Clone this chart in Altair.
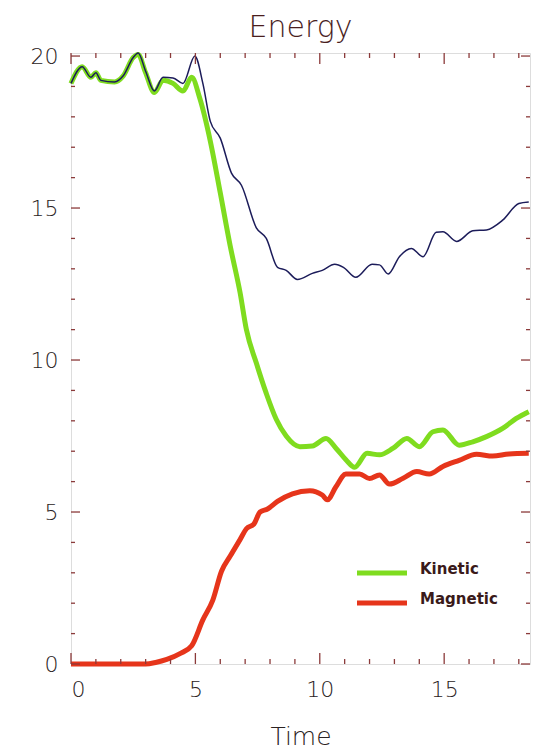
import altair as alt
import pandas as pd

# Total energy (thin dark line)
time_total = [0.0, 0.45, 0.8, 1.0, 1.2, 1.75, 2.1, 2.5, 2.7, 3.0, 3.35, 3.7, 4.1, 4.5,
              4.98, 5.3, 5.6, 6.0, 6.45, 6.85, 7.45, 7.85, 8.3, 8.65, 9.1, 9.7, 10.1,
              10.6, 10.95, 11.45, 12.1, 12.4, 12.75, 13.2, 13.68, 14.15, 14.68, 14.95,
              15.5, 16.15, 16.7, 17.35, 18.0, 18.4]
energy_total = [19.1, 19.65, 19.3, 19.45, 19.2, 19.15, 19.35, 19.95, 20.1, 19.5, 18.85,
                19.3, 19.28, 19.1, 20.0, 19.1, 17.85, 17.3, 16.15, 15.75, 14.35, 14.0,
                13.05, 12.95, 12.65, 12.85, 12.95, 13.15, 13.05, 12.72, 13.15, 13.13,
                12.83, 13.4, 13.67, 13.4, 14.2, 14.22, 13.9, 14.25, 14.28, 14.6, 15.15,
                15.2]

# Kinetic energy
time_kinetic = [0.0, 0.45, 0.8, 1.0, 1.2, 1.75, 2.1, 2.5, 2.7, 3.0, 3.35, 3.7, 4.1, 4.5,
                4.85, 5.18, 5.6, 6.0, 6.4, 6.8, 7.05, 7.45, 7.85, 8.25, 8.65, 9.2, 9.7,
                10.25, 10.65, 11.05, 11.4, 11.9, 12.4, 12.95, 13.5, 14.0, 14.55, 14.95,
                15.6, 16.15, 16.7, 17.35, 17.9, 18.4]
energy_kinetic = [19.1, 19.65, 19.3, 19.45, 19.2, 19.15, 19.35, 19.95, 20.05, 19.45,
                  18.8, 19.2, 19.1, 18.85, 19.3, 18.6, 17.2, 15.5, 13.75, 12.2, 11.0,
                  9.9, 8.9, 8.05, 7.5, 7.15, 7.17, 7.42, 7.1, 6.72, 6.47, 6.93, 6.88,
                  7.1, 7.42, 7.15, 7.64, 7.7, 7.2, 7.31, 7.48, 7.75, 8.08, 8.3]

# Magnetic energy
time_magnetic = [0.0, 1.0, 2.0, 3.0, 3.4, 3.85, 4.4, 4.85, 5.3, 5.7, 6.05, 6.4, 6.8,
                 7.05, 7.35, 7.6, 7.9, 8.3, 8.9, 9.6, 10.1, 10.3, 10.65, 11.05, 11.6,
                 12.0, 12.4, 12.8, 13.35, 13.9, 14.4, 14.95, 15.6, 16.3, 16.95, 17.6,
                 18.4]
energy_magnetic = [0.0, 0.0, 0.0, 0.0, 0.05, 0.15, 0.35, 0.6, 1.45, 2.1, 3.05, 3.55,
                   4.1, 4.45, 4.6, 5.0, 5.1, 5.35, 5.6, 5.7, 5.56, 5.4, 5.83, 6.25,
                   6.25, 6.1, 6.22, 5.92, 6.11, 6.33, 6.25, 6.5, 6.7, 6.9, 6.84, 6.91,
                   6.93]

series_names = ["Kinetic", "Magnetic"]
series_colors = ["#7fdc1f", "#e6351b"]

x_major = [0, 5, 10, 15]
x_minor = [v for v in range(1, 19) if v % 5 != 0]
y_major = [0, 5, 10, 15, 20]
y_minor = [v for v in range(1, 20) if v % 5 != 0]

W, H = 459, 611
FRAME = "#8b3a3a"
TEXT = "#2a2222"
FONT = "DejaVu Sans"

total_df = pd.DataFrame({"t": time_total, "E": energy_total})
parts_df = pd.concat([
    pd.DataFrame({"t": time_kinetic, "E": energy_kinetic, "series": "Kinetic"}),
    pd.DataFrame({"t": time_magnetic, "E": energy_magnetic, "series": "Magnetic"}),
], ignore_index=True)

xscale = alt.Scale(domain=[0, 18.45], nice=False, zero=False)
yscale = alt.Scale(domain=[0, 20.1], nice=False)
color_scale = alt.Scale(domain=series_names, range=series_colors)

x_axis = alt.Axis(values=x_major, ticks=False, domain=False, grid=False,
                  labelFontSize=22, labelColor=TEXT, labelFont=FONT, labelFontWeight=300,
                  labelPadding=15,
                  title="Time", titleFontSize=25, titleFont=FONT, titleColor=TEXT,
                  titleFontWeight=300, titlePadding=24, format="d")
y_axis = alt.Axis(values=y_major, ticks=False, domain=False, grid=False,
                  labelFontSize=22, labelColor=TEXT, labelFont=FONT, labelFontWeight=300,
                  labelPadding=13, title="", format="d")

X = alt.X("t:Q", scale=xscale, axis=x_axis, title="Time")
Y = alt.Y("E:Q", scale=yscale, axis=y_axis, title="")

parts = alt.Chart(parts_df).mark_line(strokeWidth=5, interpolate="monotone").encode(
    x=X, y=Y,
    color=alt.Color("series:N", scale=color_scale, legend=None),
    order=alt.Order("t:Q"),
)
# magnetic first so kinetic sits above it
magnetic = parts.transform_filter(alt.datum.series == "Magnetic")
kinetic = parts.transform_filter(alt.datum.series == "Kinetic")

total = alt.Chart(total_df).mark_line(strokeWidth=1.5, color="#1c1c5a",
                                      interpolate="monotone").encode(x=X, y=Y)

# inward tick marks on all four sides
def xticks(vals, length):
    d = pd.DataFrame({"t": vals})
    bottom = alt.Chart(d).mark_rule(color=FRAME, strokeWidth=1.3).encode(
        x=X, y=alt.value(H), y2=alt.value(H - length))
    top = alt.Chart(d).mark_rule(color=FRAME, strokeWidth=1.3).encode(
        x=X, y=alt.value(0), y2=alt.value(length))
    return [bottom, top]

def yticks(vals, length):
    d = pd.DataFrame({"E": vals})
    left = alt.Chart(d).mark_rule(color=FRAME, strokeWidth=1.3).encode(
        y=Y, x=alt.value(0), x2=alt.value(length))
    right = alt.Chart(d).mark_rule(color=FRAME, strokeWidth=1.3).encode(
        y=Y, x=alt.value(W), x2=alt.value(W - length))
    return [left, right]

tick_layers = xticks(x_major, 11) + xticks(x_minor, 5) + yticks(y_major, 9) + yticks(y_minor, 4)

# legend in the lower right of the plot area, one row per series
key_layers = []
for i, name in enumerate(series_names):
    row = 520 + 30 * i
    d = pd.DataFrame({"series": [name]})
    key_layers.append(alt.Chart(d).mark_rule(strokeWidth=5).encode(
        y=alt.value(row), x=alt.value(286), x2=alt.value(336),
        color=alt.Color("series:N", scale=color_scale, legend=None)))
    key_layers.append(alt.Chart(d).mark_text(
        align="left", baseline="middle", dy=-4, fontSize=15, font="DejaVu Sans",
        fontWeight="bold", color="#3a1a1a",
    ).encode(y=alt.value(row), x=alt.value(349), text="series:N"))

chart = alt.layer(magnetic, kinetic, total, *tick_layers, *key_layers).properties(
    width=W, height=H,
    title=alt.TitleParams("Energy", fontSize=30, font=FONT, fontWeight=300,
                          color="#4a1e1e", anchor="middle", offset=2),
    padding={"left": 71, "top": 53, "right": 8, "bottom": 89},
    autosize=alt.AutoSizeParams(type="none"),
).configure_view(stroke=FRAME, strokeWidth=2, strokeOpacity=1).configure(background="white")

chart.save("out.html", embed_options={"renderer": "svg", "actions": False})
